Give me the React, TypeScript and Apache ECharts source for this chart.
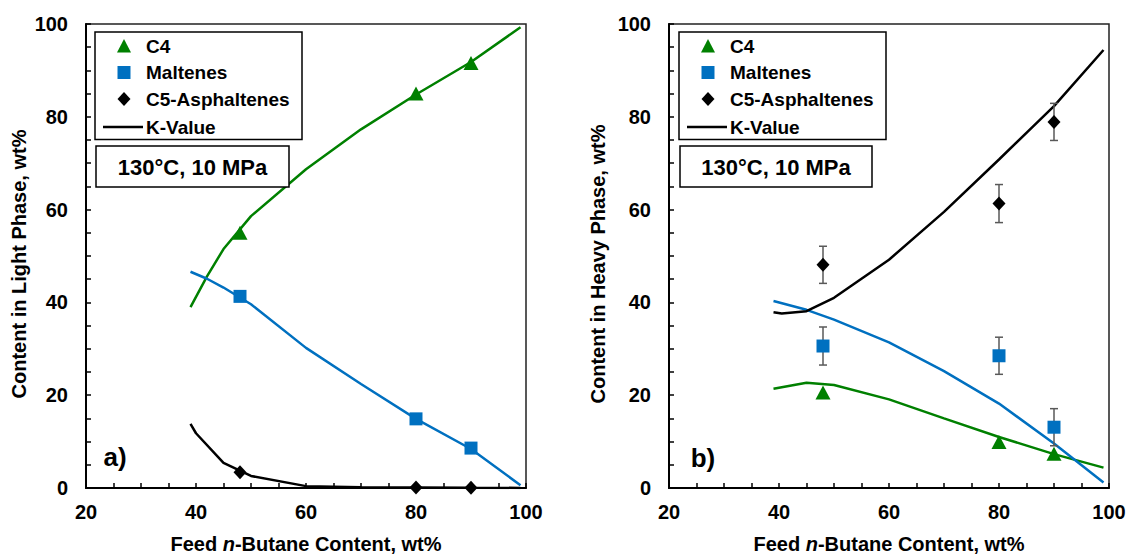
import React, { useEffect, useRef } from "react";
import * as echarts from "echarts";

// ---- data ----
const expX = [48, 80, 90];

// Light phase (panel a)
const lightC4Exp = [55.0, 85.0, 91.6];
const lightMaltExp = [41.3, 14.9, 8.6];
const lightAsphExp = [3.4, 0.1, 0.05];

const lightC4ModelX = [39, 42, 45, 50, 60, 70, 80, 90, 99];
const lightC4ModelY = [39, 45.6, 51.5, 58.6, 68.7, 77.3, 84.8, 91.8, 99.3];
const lightMaltModelX = [39, 42, 45, 50, 60, 70, 80, 90, 99];
const lightMaltModelY = [46.6, 45.1, 43.2, 39.6, 30.2, 22.4, 14.9, 8.4, 0.6];
const lightAsphModelX = [39, 40, 45, 50, 60, 70, 80, 90, 99];
const lightAsphModelY = [13.8, 11.8, 5.4, 2.6, 0.4, 0.15, 0.1, 0.05, 0.02];

// Heavy phase (panel b)
const heavyC4Exp = [20.6, 9.9, 7.4];
const heavyMaltExp = [30.6, 28.5, 13.1];
const heavyMaltErr = [4.1, 4.0, 4.0];
const heavyAsphExp = [48.1, 61.3, 78.9];
const heavyAsphErr = [4.0, 4.1, 4.0];

const heavyAsphModelX = [39, 40.5, 45, 50, 60, 70, 80, 90, 99];
const heavyAsphModelY = [37.9, 37.6, 38.1, 41, 49.2, 59.5, 70.8, 82.3, 94.4];
const heavyMaltModelX = [39, 45, 50, 60, 70, 80, 90, 99];
const heavyMaltModelY = [40.3, 38.4, 36.3, 31.4, 25.2, 18.2, 9.6, 1.2];
const heavyC4ModelX = [39, 45, 50, 60, 70, 80, 90, 99];
const heavyC4ModelY = [21.4, 22.7, 22.2, 19.1, 15, 11, 7.3, 4.4];

const xTicks = { min: 20, max: 100, interval: 20 };
const yTicks = { min: 0, max: 100, interval: 20 };

const legendLabels = ["C4", "Maltenes", "C5-Asphaltenes", "K-Value"];
const conditionText = "130°C, 10 MPa";
const panelLabels = ["a)", "b)"];
const yTitles = ["Content in Light Phase, wt%", "Content in Heavy Phase, wt%"];

// ---- style ----
const GREEN = "#008000";
const BLUE = "#0070C0";
const BLACK = "#000000";
const FONT = "Liberation Sans, Arial, sans-serif";

const grids = [
  { left: 86, top: 24, width: 440, height: 465 },
  { left: 669, top: 24, width: 440, height: 465 },
];

function makeXAxis(idx: number) {
  return {
    type: "value",
    gridIndex: idx,
    min: xTicks.min,
    max: xTicks.max,
    interval: xTicks.interval,
    axisLine: { show: true, onZero: false, lineStyle: { color: BLACK, width: 2 } },
    axisTick: { show: true, inside: true, length: 5, lineStyle: { color: BLACK, width: 1.5 } },
    minorTick: { show: true, splitNumber: 4, length: 5, lineStyle: { color: BLACK, width: 1.5 } },
    splitLine: { show: false },
    minorSplitLine: { show: false },
    axisLabel: { fontSize: 20, fontWeight: "bold", color: BLACK, margin: 14, fontFamily: FONT },
    name: "{r|Feed }{i|n}{r|-Butane Content, wt%}",
    nameLocation: "middle",
    nameGap: 46,
    nameTextStyle: {
      rich: {
        r: { fontSize: 20, fontWeight: "bold", color: BLACK, fontFamily: FONT },
        i: { fontSize: 20, fontWeight: "bold", fontStyle: "italic", color: BLACK, fontFamily: FONT },
      },
    },
  };
}

function makeYAxis(idx: number) {
  return {
    type: "value",
    gridIndex: idx,
    min: yTicks.min,
    max: yTicks.max,
    interval: yTicks.interval,
    axisLine: { show: true, onZero: false, lineStyle: { color: BLACK, width: 2 } },
    axisTick: { show: true, inside: true, length: 5, lineStyle: { color: BLACK, width: 1.5 } },
    minorTick: { show: true, splitNumber: 4, length: 5, lineStyle: { color: BLACK, width: 1.5 } },
    splitLine: { show: false },
    minorSplitLine: { show: false },
    axisLabel: { fontSize: 20, fontWeight: "bold", color: BLACK, margin: 18, fontFamily: FONT },
  };
}

function lineSeries(xs: number[], ys: number[], color: string, idx: number) {
  return {
    type: "line",
    xAxisIndex: idx,
    yAxisIndex: idx,
    data: xs.map((x, i) => [x, ys[i]]),
    showSymbol: false,
    symbol: "none",
    smooth: false,
    lineStyle: { color, width: 2.5 },
    itemStyle: { color },
    z: 3,
    silent: true,
  };
}

function scatterSeries(ys: number[], symbol: string, size: any, color: string, idx: number) {
  return {
    type: "scatter",
    xAxisIndex: idx,
    yAxisIndex: idx,
    data: expX.map((x, i) => [x, ys[i]]),
    symbol,
    symbolSize: size,
    itemStyle: { color, opacity: 1 },
    z: 5,
    silent: true,
  };
}

function errorSeries(ys: number[], errs: number[], idx: number) {
  return {
    type: "custom",
    xAxisIndex: idx,
    yAxisIndex: idx,
    data: expX.map((x, i) => [x, ys[i], errs[i]]),
    encode: { x: 0, y: 1 },
    z: 4,
    silent: true,
    renderItem: (params: any, api: any) => {
      const x = api.value(0);
      const y = api.value(1);
      const e = api.value(2);
      const top = api.coord([x, y + e]);
      const bot = api.coord([x, y - e]);
      const st = { stroke: "#595959", lineWidth: 1.5 };
      const cap = 4;
      return {
        type: "group",
        children: [
          { type: "line", shape: { x1: top[0], y1: top[1], x2: bot[0], y2: bot[1] }, style: st },
          { type: "line", shape: { x1: top[0] - cap, y1: top[1], x2: top[0] + cap, y2: top[1] }, style: st },
          { type: "line", shape: { x1: bot[0] - cap, y1: bot[1], x2: bot[0] + cap, y2: bot[1] }, style: st },
        ],
      };
    },
  };
}

function legendGraphics(bx: number, tbRight: number) {
  const by = 32;
  const rows = [46, 72.5, 99, 127];
  const mx = bx + 29;
  const tx = bx + 51;
  const els: any[] = [];
  els.push({
    type: "rect",
    z: 100,
    shape: { x: bx, y: by, width: 207, height: 107.5 },
    style: { fill: "#fff", stroke: BLACK, lineWidth: 1.5 },
  });
  // triangle
  els.push({
    type: "polygon",
    z: 101,
    shape: { points: [[mx, rows[0] - 7], [mx - 7, rows[0] + 6.5], [mx + 7, rows[0] + 6.5]] },
    style: { fill: GREEN },
  });
  // square
  els.push({
    type: "rect",
    z: 101,
    shape: { x: mx - 6.5, y: rows[1] - 6.5, width: 13, height: 13 },
    style: { fill: BLUE },
  });
  // diamond
  els.push({
    type: "polygon",
    z: 101,
    shape: { points: [[mx, rows[2] - 7], [mx + 6.5, rows[2]], [mx, rows[2] + 7], [mx - 6.5, rows[2]]] },
    style: { fill: BLACK },
  });
  // line
  els.push({
    type: "line",
    z: 101,
    shape: { x1: bx + 8, y1: rows[3], x2: bx + 48, y2: rows[3] },
    style: { stroke: BLACK, lineWidth: 2.5 },
  });
  legendLabels.forEach((t, i) => {
    els.push({
      type: "text",
      z: 101,
      x: tx,
      y: rows[i],
      style: {
        text: t,
        fill: BLACK,
        font: `bold 19px ${FONT}`,
        align: "left",
        verticalAlign: "middle",
      },
    });
  });
  // condition text box
  const tbx = bx + 1;
  els.push({
    type: "rect",
    z: 100,
    shape: { x: tbx, y: 146, width: tbRight - tbx, height: 41 },
    style: { fill: "#fff", stroke: BLACK, lineWidth: 1.5 },
  });
  els.push({
    type: "text",
    z: 101,
    x: (tbx + tbRight) / 2,
    y: 167,
    style: {
      text: conditionText,
      fill: BLACK,
      font: `bold 22px ${FONT}`,
      align: "center",
      verticalAlign: "middle",
    },
  });
  return els;
}

export default function App() {
  const ref = useRef<HTMLDivElement>(null);
  useEffect(() => {
    if (!ref.current) return;
    const chart = echarts.init(ref.current, null, { renderer: "svg" });
    const graphic: any[] = [
      ...legendGraphics(95, 289),
      ...legendGraphics(679, 872),
      {
        type: "text",
        x: 115,
        y: 457,
        style: { text: panelLabels[0], fill: BLACK, font: `bold 26px ${FONT}`, align: "center", verticalAlign: "middle" },
      },
      {
        type: "text",
        x: 703,
        y: 458,
        style: { text: panelLabels[1], fill: BLACK, font: `bold 26px ${FONT}`, align: "center", verticalAlign: "middle" },
      },
      {
        type: "text",
        x: 19,
        y: 264,
        rotation: Math.PI / 2,
        style: { text: yTitles[0], fill: BLACK, font: `bold 20px ${FONT}`, align: "center", verticalAlign: "middle" },
      },
      {
        type: "text",
        x: 598,
        y: 264,
        rotation: Math.PI / 2,
        style: { text: yTitles[1], fill: BLACK, font: `bold 20px ${FONT}`, align: "center", verticalAlign: "middle" },
      },
    ];
    const option: any = {
      animation: false,
      backgroundColor: "#ffffff",
      textStyle: { fontFamily: FONT },
      grid: grids.map((g) => ({
        ...g,
        show: true,
        borderColor: "#222",
        borderWidth: 1.5,
        backgroundColor: "transparent",
      })),
      xAxis: [makeXAxis(0), makeXAxis(1)],
      yAxis: [makeYAxis(0), makeYAxis(1)],
      series: [
        lineSeries(lightC4ModelX, lightC4ModelY, GREEN, 0),
        lineSeries(lightMaltModelX, lightMaltModelY, BLUE, 0),
        lineSeries(lightAsphModelX, lightAsphModelY, BLACK, 0),
        scatterSeries(lightC4Exp, "triangle", [15, 14], GREEN, 0),
        scatterSeries(lightMaltExp, "rect", 13, BLUE, 0),
        scatterSeries(lightAsphExp, "diamond", [13, 14], BLACK, 0),

        lineSeries(heavyC4ModelX, heavyC4ModelY, GREEN, 1),
        lineSeries(heavyMaltModelX, heavyMaltModelY, BLUE, 1),
        lineSeries(heavyAsphModelX, heavyAsphModelY, BLACK, 1),
        errorSeries(heavyMaltExp, heavyMaltErr, 1),
        errorSeries(heavyAsphExp, heavyAsphErr, 1),
        scatterSeries(heavyC4Exp, "triangle", [15, 14], GREEN, 1),
        scatterSeries(heavyMaltExp, "rect", 13, BLUE, 1),
        scatterSeries(heavyAsphExp, "diamond", [13, 14], BLACK, 1),
      ],
      graphic,
    };
    chart.setOption(option);
    return () => chart.dispose();
  }, []);
  return (
    <div
      ref={ref}
      style={{ position: "absolute", left: 0, top: 0, width: 1131, height: 559, background: "#fff" }}
    />
  );
}
